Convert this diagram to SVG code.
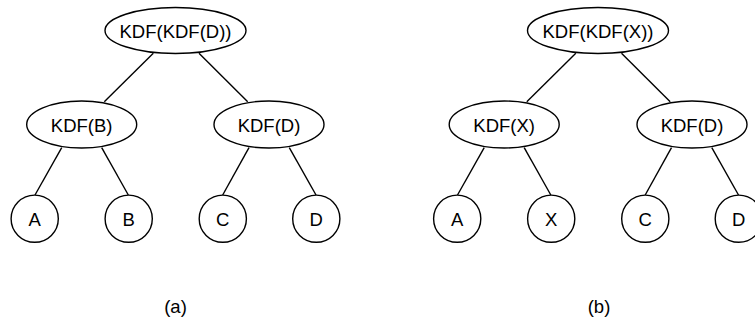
<svg xmlns="http://www.w3.org/2000/svg" width="755" height="320" viewBox="0 0 755 320">
  <style>
    .node { fill: #ffffff; stroke: #000000; stroke-width: 1.4; }
    .edge { stroke: #000000; stroke-width: 1.4; fill: none; }
    .lbl { font-family: "Liberation Sans", Arial, Helvetica, sans-serif; font-size: 18.5px; fill: #000000; text-anchor: middle; }
  </style>
  <rect width="755" height="320" fill="#ffffff"/>

  <!-- Tree (a) edges -->
  <g id="edges-a">
    <line class="edge" x1="153.3" y1="53.3" x2="104.3" y2="101.7"/>
    <line class="edge" x1="199" y1="53.3" x2="247.7" y2="101.7"/>
    <line class="edge" x1="61.7" y1="147.7" x2="35" y2="195"/>
    <line class="edge" x1="101.7" y1="147.7" x2="128.3" y2="195"/>
    <line class="edge" x1="249" y1="147.7" x2="222.7" y2="195"/>
    <line class="edge" x1="289.3" y1="147.7" x2="316" y2="195"/>
  </g>

  <!-- Tree (b) edges -->
  <g id="edges-b">
    <line class="edge" x1="575.8" y1="53.3" x2="526.8" y2="101.7"/>
    <line class="edge" x1="621.5" y1="53.3" x2="670.2" y2="101.7"/>
    <line class="edge" x1="484.2" y1="147.7" x2="457.5" y2="195"/>
    <line class="edge" x1="524.2" y1="147.7" x2="550.8" y2="195"/>
    <line class="edge" x1="671.5" y1="147.7" x2="645.2" y2="195"/>
    <line class="edge" x1="711.8" y1="147.7" x2="738.5" y2="195"/>
  </g>

  <!-- Tree (a) nodes -->
  <g id="a-root"><ellipse class="node" cx="175.5" cy="30.5" rx="70.5" ry="23"/><text class="lbl" x="175.5" y="37.8">KDF(KDF(D))</text></g>
  <g id="a-kdfb"><ellipse class="node" cx="81.7" cy="124.5" rx="55" ry="23.5"/><text class="lbl" x="81.7" y="132">KDF(B)</text></g>
  <g id="a-kdfd"><ellipse class="node" cx="269" cy="124.5" rx="55" ry="23.5"/><text class="lbl" x="269" y="132">KDF(D)</text></g>
  <g id="a-leaf-a"><circle class="node" cx="34.7" cy="218.7" r="23.6"/><text class="lbl" x="34.7" y="225.5">A</text></g>
  <g id="a-leaf-b"><circle class="node" cx="128.7" cy="218.7" r="23.6"/><text class="lbl" x="128.7" y="225.5">B</text></g>
  <g id="a-leaf-c"><circle class="node" cx="222.8" cy="218.7" r="23.6"/><text class="lbl" x="222.8" y="225.5">C</text></g>
  <g id="a-leaf-d"><circle class="node" cx="316.3" cy="218.7" r="23.6"/><text class="lbl" x="316.3" y="225.5">D</text></g>
  <text class="lbl" x="175.5" y="313">(a)</text>

  <!-- Tree (b) nodes -->
  <g id="b-root"><ellipse class="node" cx="598" cy="30.5" rx="70.5" ry="23"/><text class="lbl" x="598" y="37.8">KDF(KDF(X))</text></g>
  <g id="b-kdfx"><ellipse class="node" cx="504.2" cy="124.5" rx="55" ry="23.5"/><text class="lbl" x="504.2" y="132">KDF(X)</text></g>
  <g id="b-kdfd"><ellipse class="node" cx="692" cy="124.5" rx="55" ry="23.5"/><text class="lbl" x="692" y="132">KDF(D)</text></g>
  <g id="b-leaf-a"><circle class="node" cx="457.2" cy="218.7" r="23.6"/><text class="lbl" x="457.2" y="225.5">A</text></g>
  <g id="b-leaf-x"><circle class="node" cx="551.2" cy="218.7" r="23.6"/><text class="lbl" x="551.2" y="225.5">X</text></g>
  <g id="b-leaf-c"><circle class="node" cx="645.3" cy="218.7" r="23.6"/><text class="lbl" x="645.3" y="225.5">C</text></g>
  <g id="b-leaf-d"><circle class="node" cx="738.8" cy="218.7" r="23.6"/><text class="lbl" x="738.8" y="225.5">D</text></g>
  <text class="lbl" x="599" y="313">(b)</text>
</svg>
